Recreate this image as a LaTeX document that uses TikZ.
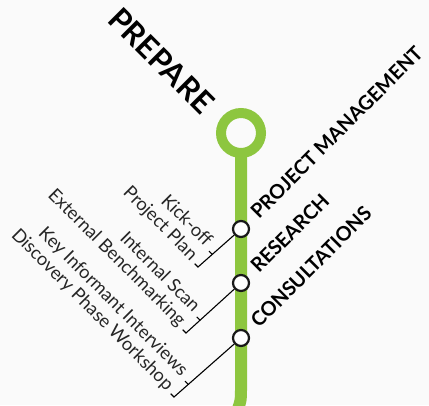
\documentclass[tikz,border=0pt]{standalone}
\usepackage{fontspec}
\setmainfont{Lato}
\usetikzlibrary{positioning, calc, backgrounds}
\definecolor{lineGreen}{RGB}{141,198,63}
\definecolor{bgGray}{RGB}{250,250,250}

\begin{document}
\begin{tikzpicture}[
    x=1pt, y=-1pt,
    ring_box/.style={circle, draw=lineGreen, line width=10pt, minimum size=40pt, inner sep=0pt, fill=bgGray},
    stop_box/.style={circle, draw=black!90, line width=2.2pt, minimum size=16pt, inner sep=0pt, fill=white},
    phase_label/.style={font=\fontsize{19.8}{23}\selectfont\bfseries, rotate=45, anchor=base west, inner sep=0pt},
    task_label/.style={font=\fontsize{18.3}{20.5}\selectfont, text=black!85, rotate=-45, align=right, anchor=south east, inner sep=0pt},
    track/.style={draw=lineGreen, line width=12pt},
    leader/.style={line width=1.1pt}
]
\useasboundingbox (0,0) rectangle (429,405);

% Ring and stops
\node[ring_box] (ring) at (241,133) {};
\node[stop_box, on grid, below=96pt of ring] (s1) {};
\node[stop_box, on grid, below=54pt of s1] (s2) {};
\node[stop_box, on grid, below=55pt of s2] (s3) {};

% Phase title
\node[font=\fontsize{31}{34}\selectfont\bfseries, rotate=-45, anchor=base east, inner sep=0pt] (prepare) at ($(ring)+(-40,-17)$) {PREPARE};

% Stop labels
\node[phase_label] (p1) at ($(s1)+(18,-9)$) {PROJECT MANAGEMENT};
\node[phase_label] (p2) at ($(s2)+(18,-9)$) {RESEARCH};
\node[phase_label] (p3) at ($(s3)+(18,-9)$) {CONSULTATIONS};

% Bracket corners
\coordinate (c1) at (198,267);
\coordinate (c2) at (186,333);
\coordinate (c3) at (174,397);

% Task lists
\node[task_label] (t1) at ($(c1)+(-10,-3)$) {Kick-off\\Project Plan};
\node[task_label] (t2) at ($(c2)+(-10,-3)$) {Internal Scan\\External Benchmarking};
\node[task_label] (t3) at ($(c3)+(-10,-3)$) {Key Informant Interviews\\Discovery Phase Workshop};

% Leaders with brackets
\foreach \i in {1,2,3} {
    \draw[leader] (s\i) -- (c\i) -- ++(-3.3,-3.3);
    \draw[leader] ($(c\i)!19pt!(s\i)$) -- ++(-3.3,-3.3);
}

% Track behind the ring and stops
\begin{scope}[on background layer]
    \fill[bgGray] (0,0) rectangle (429,405);
    \coordinate (bend) at (241,390);
    \draw[track] (ring.center) -- (bend) .. controls (241,400) .. (237,412);
\end{scope}
\end{tikzpicture}
\end{document}
